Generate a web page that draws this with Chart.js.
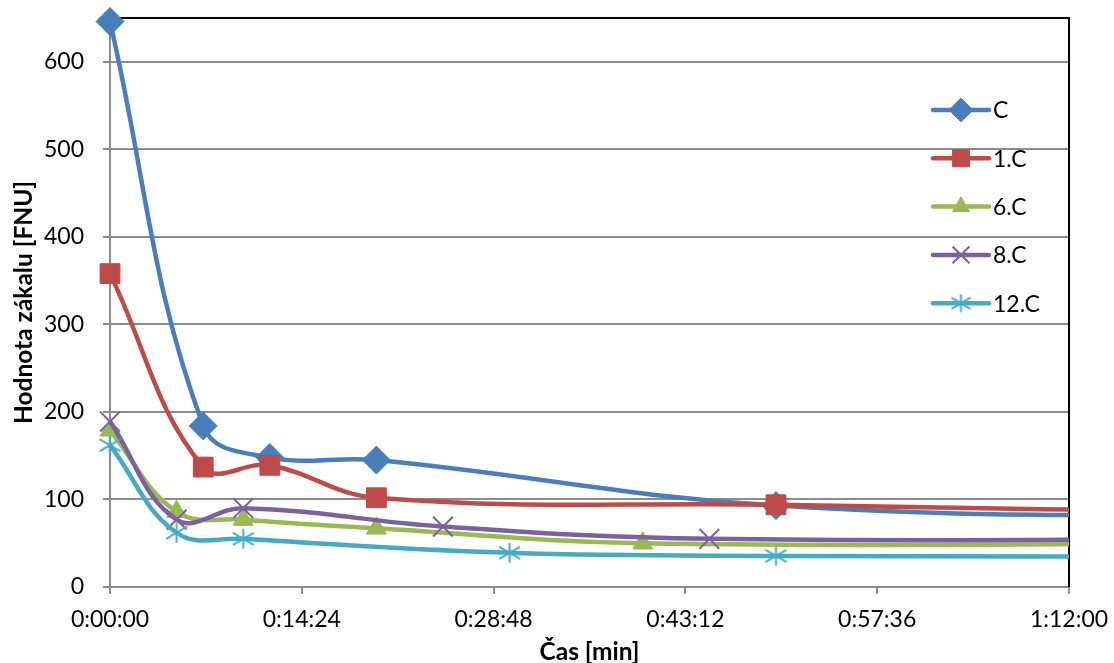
<!DOCTYPE html>
<html>
<head>
<meta charset="utf-8">
<script src="https://cdn.jsdelivr.net/npm/chart.js@4.4.1/dist/chart.umd.min.js"></script>
<style>
  html, body { margin: 0; padding: 0; background: #ffffff; }
  #wrap { width: 1114px; height: 663px; }
</style>
</head>
<body>
<div id="wrap"><canvas id="chart" width="1114" height="663"></canvas></div>
<script>
// Turbidity measurements over time (time in minutes, values in FNU)
const seriesNames = ['C', '1.C', '6.C', '8.C', '12.C'];

const timesC    = [0, 7, 12, 20, 50, 90];
const valuesC   = [646, 184, 148, 145, 93, 79];

const times1C   = [0, 7, 12, 20, 50, 90];
const values1C  = [358, 137, 139, 102, 94, 84];

const times6C   = [0, 5, 10, 20, 40, 90];
const values6C  = [179, 86, 77, 67, 50, 50];

const times8C   = [0, 5, 10, 25, 45, 90];
const values8C  = [189, 77, 90, 69, 55, 55];

const times12C  = [0, 5, 10, 30, 50, 90];
const values12C = [162, 62, 55, 39, 35.5, 35];

// Axis ticks (x in seconds, shown as h:mm:ss)
const xTickSeconds = [0, 864, 1728, 2592, 3456, 4320];
const xTickLabels  = ['0:00:00', '0:14:24', '0:28:48', '0:43:12', '0:57:36', '1:12:00'];
const yTickValues  = [0, 100, 200, 300, 400, 500, 600];

const colors = ['#4A7EBB', '#BE4B48', '#98B954', '#7D60A0', '#46AAC5'];

const FONT = 'Lato, "Open Sans", "DejaVu Sans", sans-serif';

// Six-armed asterisk marker (vertical stroke plus two slanted strokes)
function makeAsterisk(color, size) {
  const c = document.createElement('canvas');
  c.width = size; c.height = size;
  const g = c.getContext('2d');
  const m = size / 2;
  const h = size / 2 - 1.5;
  const w = h * 1.05, v = h * 0.62;
  g.strokeStyle = color;
  g.lineWidth = 2;
  g.beginPath();
  g.moveTo(m, m - h); g.lineTo(m, m + h);
  g.moveTo(m - w, m - v); g.lineTo(m + w, m + v);
  g.moveTo(m - w, m + v); g.lineTo(m + w, m - v);
  g.stroke();
  return c;
}

const asteriskBig = makeAsterisk(colors[4], 23);
const asteriskSmall = makeAsterisk(colors[4], 21);

const pointStyles = ['rectRot', 'rect', 'triangle', 'crossRot', asteriskBig];
const legendPointStyles = ['rectRot', 'rect', 'triangle', 'crossRot', asteriskSmall];
const pointRadii = [14, 14, 11.5, 14, 10];
const pointBorderWidths = [1, 1, 1, 2, 2];

function toPoints(times, values) {
  return times.map((t, i) => ({ x: t * 60, y: values[i] }));
}

const seriesData = [
  toPoints(timesC, valuesC),
  toPoints(times1C, values1C),
  toPoints(times6C, values6C),
  toPoints(times8C, values8C),
  toPoints(times12C, values12C)
];

const datasets = seriesNames.map((name, i) => ({
  label: name,
  data: seriesData[i],
  borderColor: colors[i],
  backgroundColor: colors[i],
  borderWidth: 4.5,
  tension: 0.4,
  pointStyle: pointStyles[i],
  pointRadius: pointRadii[i],
  pointBorderWidth: pointBorderWidths[i],
  pointBackgroundColor: colors[i],
  pointBorderColor: colors[i],
  clip: { left: 30, top: 30, right: 0, bottom: 30 },
  order: seriesNames.length - 1 - i
}));

// Black frame on the top and right of the plot area
const frameBorder = {
  id: 'frameBorder',
  beforeDatasetsDraw(chart) {
    const { ctx, chartArea: a } = chart;
    ctx.save();
    ctx.strokeStyle = '#000000';
    ctx.lineWidth = 2;
    ctx.beginPath();
    ctx.moveTo(a.left, a.top);
    ctx.lineTo(a.right, a.top);
    ctx.lineTo(a.right, a.bottom);
    ctx.stroke();
    ctx.restore();
  }
};

// Legend drawn inside the plot area: line sample with marker, then the name
const insideLegend = {
  id: 'insideLegend',
  afterDatasetsDraw(chart) {
    const { ctx } = chart;
    const x0 = 933, x1 = 989, top = 110, step = 48.3;
    ctx.save();
    chart.data.datasets.forEach((ds, i) => {
      const y = top + i * step;
      ctx.strokeStyle = ds.borderColor;
      ctx.lineWidth = 4.5;
      ctx.lineCap = 'round';
      ctx.beginPath();
      ctx.moveTo(x0, y);
      ctx.lineTo(x1, y);
      ctx.stroke();
      ctx.lineCap = 'butt';
      ctx.fillStyle = ds.pointBackgroundColor;
      ctx.strokeStyle = ds.pointBorderColor;
      ctx.lineWidth = ds.pointBorderWidth;
      Chart.helpers.drawPoint(ctx, {
        pointStyle: legendPointStyles[i],
        radius: ds.pointRadius * 0.85,
        rotation: 0,
        borderWidth: ds.pointBorderWidth
      }, (x0 + x1) / 2, y);
      ctx.fillStyle = '#000000';
      ctx.font = '23px ' + FONT;
      ctx.textAlign = 'left';
      ctx.textBaseline = 'middle';
      ctx.fillText(ds.label, x1 + 4, y + 1);
    });
    ctx.restore();
  }
};

const gridGray = '#8C8C8C';

new Chart(document.getElementById('chart'), {
  type: 'line',
  data: { datasets },
  plugins: [frameBorder, insideLegend],
  options: {
    responsive: false,
    animation: false,
    devicePixelRatio: 1,
    layout: { padding: { left: 0, right: 45, top: 18, bottom: 0 } },
    plugins: {
      legend: { display: false },
      tooltip: { enabled: false }
    },
    scales: {
      x: {
        type: 'linear',
        min: 0,
        max: 4320,
        afterBuildTicks(scale) {
          scale.ticks = xTickSeconds.map(v => ({ value: v }));
        },
        afterFit(scale) {
          scale.height = 76;
          scale.paddingLeft = 0;
          scale.paddingRight = 0;
        },
        ticks: {
          callback: (v, i) => xTickLabels[i],
          autoSkip: false,
          maxRotation: 0,
          color: '#000000',
          font: { family: FONT, size: 23 },
          padding: 12
        },
        grid: {
          drawOnChartArea: false,
          drawTicks: true,
          tickLength: 7,
          color: gridGray,
          lineWidth: 2
        },
        border: { color: gridGray, width: 2 },
        title: {
          display: true,
          text: 'Čas [min]',
          color: '#000000',
          font: { family: FONT, size: 24.5, weight: 'bold', lineHeight: 1 },
          padding: { top: 0, bottom: -1 }
        }
      },
      y: {
        type: 'linear',
        min: 0,
        max: 650,
        afterBuildTicks(scale) {
          scale.ticks = yTickValues.map(v => ({ value: v }));
        },
        afterFit(scale) {
          scale.width = 110;
          scale.paddingTop = 0;
          scale.paddingBottom = 0;
        },
        ticks: {
          color: '#000000',
          font: { family: FONT, size: 23 },
          padding: 19
        },
        grid: {
          color: gridGray,
          lineWidth: 2,
          tickLength: 7
        },
        border: { color: gridGray, width: 2 },
        title: {
          display: true,
          text: 'Hodnota zákalu [FNU]',
          color: '#000000',
          font: { family: FONT, size: 24.5, weight: 'bold', lineHeight: 1 },
          padding: { top: 12, bottom: 0 }
        }
      }
    }
  }
});
</script>
</body>
</html>
